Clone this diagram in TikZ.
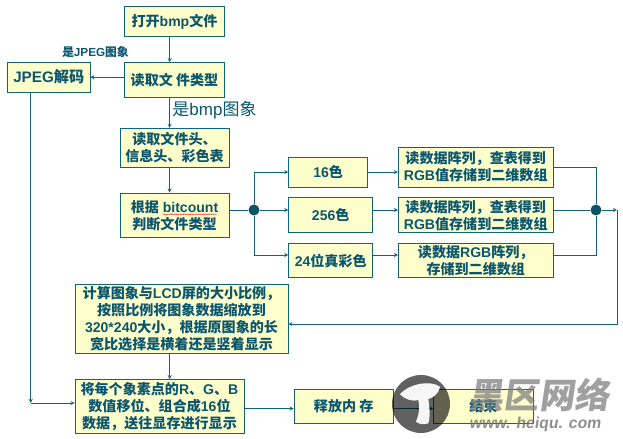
\documentclass[tikz,border=0pt]{standalone}
\usepackage{fontspec}
\setmainfont{Noto Sans CJK SC}
\newfontfamily\lafont{Liberation Sans}
\newfontfamily\wmfont{Noto Sans CJK SC}[FakeSlant=0.15]
\newfontfamily\wmlat{Liberation Sans}[FakeSlant=0.15]
\newcommand{\la}[1]{{\lafont #1}}
\usetikzlibrary{positioning,calc,decorations.pathmorphing}
\definecolor{tealline}{HTML}{0F6478}
\definecolor{tealtext}{HTML}{0A566E}
\definecolor{boxfill}{HTML}{FFFFCC}
\tikzset{
	box/.style={draw=tealline,fill=boxfill,line width=.6pt,inner sep=0pt,align=center,text=tealtext,font=\fontsize{12}{14.5}\selectfont\bfseries},
	dot/.style={circle,fill=tealline!85!black,inner sep=0pt,minimum size=.33cm},
	arr/.style={-stealth,draw=tealline,line width=.6pt},
	conn/.style={draw=tealline,line width=.6pt},
	lbl/.style={text=tealtext,inner sep=0pt},
}
\begin{document}
\begin{tikzpicture}
	\useasboundingbox (0,0) rectangle (18.69,-13.17);
	\node[box,minimum width=2.99cm,minimum height=.88cm] (open) at (5.235,-.645) {打开\la{bmp}文件};
	\node[box,minimum width=2.99cm,minimum height=1.03cm,below=.77cm of open] (type) {读取文 件类型};
	\node[box,minimum width=2.47cm,minimum height=.885cm,left=1.02cm of type,yshift=.075cm] (jpeg) {\fontsize{13}{14}\selectfont\la{JPEG}解码};
	\node[box,minimum width=3.27cm,minimum height=1.16cm,below=.92cm of type] (head) {读取文件头、\\信息头、彩色表};
	\node[box,minimum width=3.27cm,minimum height=1.34cm,below=.76cm of head] (bit) {根据\la{ bitcount}\\判断文件类型};
	\node[box,minimum width=2.52cm,minimum height=1.05cm,right=1.77cm of bit] (b256) {\la{256}色};
	\node[box,minimum width=2.37cm,minimum height=.9cm,above=.3cm of b256.north west,anchor=south west] (a16) {\la{16}色};
	\node[box,minimum width=2.52cm,minimum height=1.03cm,below=.3cm of b256.south west,anchor=north west] (c24) {\la{24}位真彩色};
	\node[box,minimum width=4.64cm,minimum height=1.05cm,right=.75cm of b256] (read2) {读数据阵列，查表得到\\\la{RGB}值存储到二维数组};
	\node[box,minimum width=4.64cm,minimum height=1.2cm,above=.3cm of read2] (read1) {读数据阵列，查表得到\\\la{RGB}值存储到二维数组};
	\node[box,minimum width=4.64cm,minimum height=1.03cm,below=.3cm of read2] (read3) {读数据\la{RGB}阵列，\\存储到二维数组};
	\node[box,minimum width=6.39cm,minimum height=2.09cm] (calc) at (5.445,-9.57) {计算图象与\la{LCD}屏的大小比例，\\按照比例将图象数据缩放到\\\la{320*240}大小，根据原图象的长\\宽比选择是横着还是竖着显示};
	\node[box,minimum width=5.07cm,minimum height=1.62cm,below=.75cm of calc.south west,anchor=north west] (show) {将每个象素点的\la{R}、\la{G}、\la{B}\\数值移位、组合成\la{16}位\\数据，送往显存进行显示};
	\node[box,minimum width=2.98cm,minimum height=1.02cm,right=1.48cm of show] (free) {释放内 存};
	\node[box,minimum width=2.98cm,minimum height=1.02cm,right=1.19cm of free] (end) {结束};
	\node[lbl,shift={(1.4,.29)},font=\fontsize{10}{12}\selectfont\bfseries] (isjpeg) at (jpeg.north) {是\la{JPEG}图象};
	\node[lbl,shift={(1.2,-.39)},font=\fontsize{14.5}{16}\selectfont] (isbmp) at (type.south) {是\la{bmp}图象};
	\node[dot] (dotl) at (7.62,-6.3) {};
	\node[dot] (dotr) at (17.88,-6.3) {};
	\coordinate (spine) at (5.09,0);
	\coordinate (turn) at (18.51,-6.3);
	\coordinate (rowc) at (7.62,-7.65);
	\coordinate (jpegend) at (.92,-12.09);
	
	\draw[arr] (open.south -| spine)--(type.north -| spine);
	\draw[arr] (type.south -| spine)--(head.north -| spine);
	\draw[arr] (head.south -| spine)--(bit.north -| spine);
	\draw[arr] (type.west |- jpeg.east)--(jpeg.east);
	\draw[conn] (bit.east |- dotl)--(dotl);
	\draw[arr] (dotl)--(b256.west |- dotl);
	\draw[arr] (dotl) |- (a16.west);
	\draw[arr] (dotl) |- (c24.west |- rowc);
	\draw[arr] (a16.east)--(read1.west |- a16.east);
	\draw[arr] (b256.east |- dotl)--(read2.west |- dotl);
	\draw[arr] (c24.east |- rowc)--(read3.west |- rowc);
	\draw[conn] (read1.east) -| (dotr);
	\draw[conn] (read2.east |- dotr)--(dotr);
	\draw[conn] (read3.east |- rowc) -| (dotr);
	\draw[arr] (dotr)--(turn);
	\draw[arr] (turn) |- ([yshift=-.15cm]calc.east);
	\draw[arr] (jpeg.south -| jpegend)--(jpegend);
	\draw[arr] (jpegend)--(show.west |- jpegend);
	\draw[arr] (calc.south -| spine)--(show.north -| spine);
	\draw[arr] ([yshift=-.06cm]show.east)--([yshift=-.06cm]free.west);
	\draw[arr] ([yshift=-.06cm]free.east)--([yshift=-.06cm]end.west);
	\draw[red,line width=.3pt,decorate,decoration={snake,amplitude=.4pt,segment length=2pt}] ([shift={(-.35,.03)}]bit.center)--([shift={(1.27,.03)}]bit.center);
	
	\fill[black,opacity=.62] (12.63,-12.12) circle (.87);
	\fill[white,opacity=.95] (12,-11.82) .. controls (12.3,-11.5) and (12.9,-11.4) .. (13.2,-11.6) .. controls (13.15,-11.85) and (12.95,-11.95) .. (12.85,-11.97) .. controls (12.9,-12.3) and (12.9,-12.55) .. (12.85,-12.7) .. controls (12.7,-12.75) and (12.55,-12.72) .. (12.48,-12.65) .. controls (12.58,-12.4) and (12.6,-12.2) .. (12.55,-12) .. controls (12.4,-12.05) and (12.15,-12) .. (12,-11.82);
	\node[text=black!50,opacity=.75,inner sep=0pt,font=\wmfont\fontsize{30}{32}\selectfont\bfseries] (wmname) at (16.17,-11.85) {黑区网络};
	\node[text=black!55,opacity=.8,inner sep=0pt,font=\wmlat\fontsize{13.5}{15}\selectfont\bfseries] (wmurl) at (16.05,-12.72) {www. heiqu. com};
\end{tikzpicture}
\end{document}
